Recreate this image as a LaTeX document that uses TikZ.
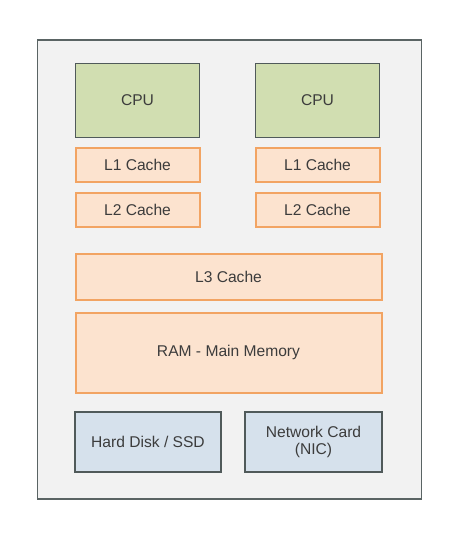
\documentclass[tikz,border=0pt]{standalone}
\usepackage{fontspec}
\setmainfont{Liberation Sans}
\definecolor{outerfill}{HTML}{F2F2F2}
\definecolor{outerdraw}{HTML}{5A6464}
\definecolor{cpufill}{HTML}{D1DEB1}
\definecolor{darkdraw}{HTML}{505A5A}
\definecolor{cachefill}{HTML}{FCE3CF}
\definecolor{cachedraw}{HTML}{F2A463}
\definecolor{iofill}{HTML}{D6E1EC}
\definecolor{txt}{HTML}{3C3C3C}
\tikzset{
  box/.style={draw, rectangle, inner sep=0pt, text=txt, font=\fontsize{15.6}{17.5}\selectfont, align=center},
  cpubox/.style={box, fill=cpufill, draw=darkdraw, line width=1.4pt},
  cachebox/.style={box, fill=cachefill, draw=cachedraw, line width=2pt},
  iobox/.style={box, fill=iofill, draw=darkdraw, line width=1.4pt},
}
\begin{document}
\begin{tikzpicture}[x=1pt,y=-1pt]
\useasboundingbox (0,0) rectangle (463,544);
\fill[white] (0,0) rectangle (463,544);
\node[draw=outerdraw, fill=outerfill, line width=1.6pt, minimum width=384pt, minimum height=459pt, inner sep=0pt] (outer) at (229.5,269.5) {};
\node[cpubox, minimum width=124pt, minimum height=74pt] (cpu1) at (137.5,100.5) {CPU};
\node[cpubox, minimum width=124pt, minimum height=74pt] (cpu2) at (317.5,100.5) {CPU};
\node[cachebox, minimum width=124pt, minimum height=34pt] (l1a) at (137.5,165) {L1 Cache};
\node[cachebox, minimum width=124pt, minimum height=34pt] (l1b) at (317.5,165) {L1 Cache};
\node[cachebox, minimum width=124pt, minimum height=34pt] (l2a) at (137.5,209.5) {L2 Cache};
\node[cachebox, minimum width=124pt, minimum height=34pt] (l2b) at (317.5,209.5) {L2 Cache};
\node[cachebox, minimum width=306pt, minimum height=46pt] (l3) at (228.5,277) {L3 Cache};
\node[cachebox, minimum width=306pt, minimum height=80pt] (ram) at (228.5,352.5) {RAM - Main Memory};
\node[iobox, minimum width=146pt, minimum height=60pt] (hdd) at (148,442) {Hard Disk / SSD};
\node[iobox, minimum width=137pt, minimum height=60pt] (nic) at (313.5,442) {Network Card\\(NIC)};
\end{tikzpicture}
\end{document}
